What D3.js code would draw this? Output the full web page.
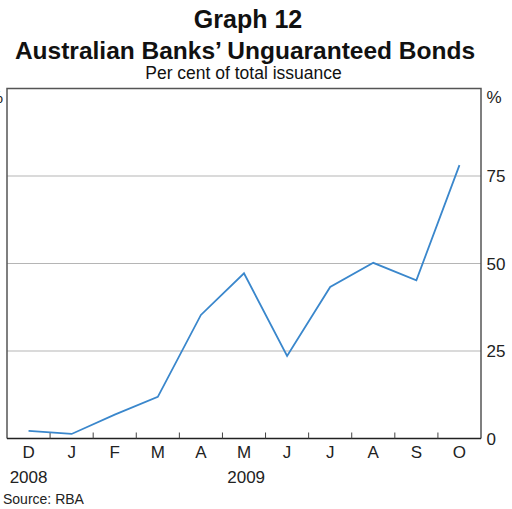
<!DOCTYPE html>
<html><head><meta charset="utf-8">
<script src="https://cdn.jsdelivr.net/npm/d3@7"></script>
<style>body{margin:0;background:#fff}svg{display:block}</style>
</head><body>
<svg id="c" width="512" height="509"></svg>
<script>
const months = ["D","J","F","M","A","M","J","J","A","S","O"];
const values = [2.2, 1.3, 6.8, 11.9, 35.3, 47.2, 23.6, 43.3, 50.2, 45.2, 78.1];
const yTicks = [0, 25, 50, 75];
const years = [{label:"2008", idx:0}, {label:"2009", idx:5.05}];

const svg = d3.select("#c");
const font = "Liberation Sans, Arial, sans-serif";
const L = 7, R = 481, T = 88.5, B = 438.5;
const idx = d3.range(months.length);
const x = d3.scaleBand().domain(idx).range([L, R]).paddingInner(0).paddingOuter(0);
const y = d3.scaleLinear().domain([0, 100]).range([B, T]);

// titles
svg.append("text").attr("x", 248).attr("y", 27.5).attr("text-anchor","middle")
  .attr("font-family", font).attr("font-weight","bold").attr("font-size", 25).attr("fill","#111").text("Graph 12");
svg.append("text").attr("x", 245).attr("y", 59).attr("text-anchor","middle")
  .attr("font-family", font).attr("font-weight","bold").attr("font-size", 24.5).attr("fill","#111").text("Australian Banks’ Unguaranteed Bonds");
svg.append("text").attr("x", 243.5).attr("y", 78.5).attr("text-anchor","middle")
  .attr("font-family", font).attr("font-size", 17.5).attr("fill","#111").text("Per cent of total issuance");

// gridlines
svg.append("g").selectAll("line").data(yTicks.filter(d => d > 0)).join("line")
  .attr("x1", L).attr("x2", R).attr("y1", d => y(d)).attr("y2", d => y(d))
  .attr("stroke", "#b5b5b5").attr("stroke-width", 1);

// frame
svg.append("path").attr("d", `M${L},${B}V${T}H${R}V${B}`).attr("fill","none")
  .attr("stroke","#555").attr("stroke-width",1.5);

// bottom axis line
svg.append("line").attr("x1", L).attr("x2", R).attr("y1", B).attr("y2", B)
  .attr("stroke", "#222").attr("stroke-width", 1.5);

// inner ticks at band boundaries
svg.append("g").selectAll("line").data(idx.slice(1)).join("line")
  .attr("x1", d => x(d)).attr("x2", d => x(d)).attr("y1", B).attr("y2", B - 6)
  .attr("stroke", "#444").attr("stroke-width", 1);

// month labels
svg.append("g").selectAll("text").data(idx).join("text")
  .attr("x", d => x(d) + x.bandwidth()/2).attr("y", 457.5).attr("text-anchor","middle")
  .attr("font-family", font).attr("font-size", 17).attr("fill","#222").text(d => months[d]);

// year labels
svg.append("g").selectAll("text").data(years).join("text")
  .attr("x", d => x(0) + x.bandwidth()*(d.idx + 0.5)).attr("y", 483).attr("text-anchor","middle")
  .attr("font-family", font).attr("font-size", 17).attr("fill","#222").text(d => d.label);

// right axis labels
svg.append("g").selectAll("text").data(yTicks).join("text")
  .attr("x", 486.5).attr("y", d => y(d)).attr("dy", "0.36em")
  .attr("font-family", font).attr("font-size", 17).attr("fill","#222").text(d => d);
svg.append("text").attr("x", 486.5).attr("y", 102.5)
  .attr("font-family", font).attr("font-size", 17).attr("fill","#222").text("%");
// left axis unit (clipped at the edge as in the original)
svg.append("text").attr("x", 3).attr("y", 102.5).attr("text-anchor","end")
  .attr("font-family", font).attr("font-size", 17).attr("fill","#222").text("%");

// line
const line = d3.line().x((d,i) => x(i) + x.bandwidth()/2).y(d => y(d));
svg.append("path").datum(values).attr("d", line).attr("fill","none")
  .attr("stroke", "#3a87cc").attr("stroke-width", 1.8).attr("stroke-linejoin","miter");

// source
svg.append("text").attr("x", 3).attr("y", 504).attr("font-family", font)
  .attr("font-size", 14).attr("fill","#222").text("Source: RBA");
</script>
</body></html>
